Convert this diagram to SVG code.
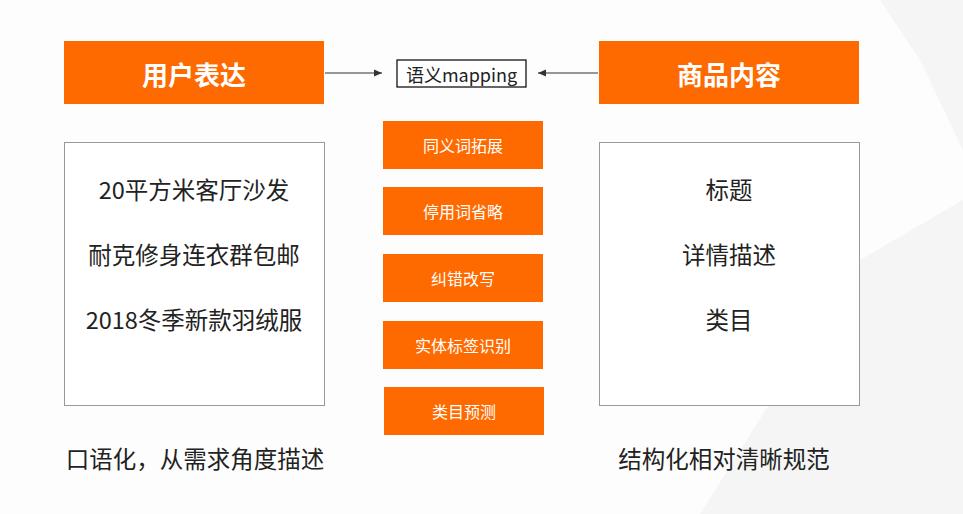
<svg xmlns="http://www.w3.org/2000/svg" width="963" height="514" viewBox="0 0 963 514">
<style>
text{font-family:"Noto Sans CJK SC","Noto Sans",sans-serif;text-anchor:middle;dominant-baseline:central}
.hd{fill:#ff6a00}.hdt{fill:#fff;font-size:26px;font-weight:bold}
.op{fill:#ff6a00}.opt{fill:#fff;font-size:16px}
.bx{fill:#fff;stroke:#999;stroke-width:1}
.bt{fill:#222;font-size:23.5px}
.ln{stroke:#333;stroke-width:1.2;fill:none}
</style>
<defs><marker id="ah" markerWidth="8" markerHeight="8" refX="7" refY="4" orient="auto"><path d="M0,1 L7,4 L0,7 Z" fill="#333"/></marker></defs>
<rect width="963" height="514" fill="#fdfdfd"/>
<g fill="#f0f0f0" opacity="0.6">
<polygon points="860,260 963,200 963,514 700,514"/>
<polygon points="880,0 963,0 963,150 920,60"/>
</g>
<g id="user"><rect class="hd" x="64" y="41" width="260" height="63"/><text class="hdt" x="194" y="73">用户表达</text></g>
<g id="goods"><rect class="hd" x="599" y="41" width="260" height="63"/><text class="hdt" x="729" y="73">商品内容</text></g>
<g id="mapping"><rect x="397" y="60" width="129" height="27" fill="#fff" stroke="#000" stroke-width="1.2"/><text x="461.5" y="73.5" font-size="18" fill="#222">语义mapping</text></g>
<g id="connectors">
<line class="ln" x1="325" y1="73" x2="382" y2="73" marker-end="url(#ah)"/>
<line class="ln" x1="598" y1="73" x2="538" y2="73" marker-end="url(#ah)"/>
</g>
<g id="op1"><rect class="op" x="383" y="121" width="160" height="48"/><text class="opt" x="463" y="145">同义词拓展</text></g>
<g id="op2"><rect class="op" x="383" y="187" width="160" height="48"/><text class="opt" x="463" y="211">停用词省略</text></g>
<g id="op3"><rect class="op" x="383" y="254" width="160" height="48"/><text class="opt" x="463" y="278">纠错改写</text></g>
<g id="op4"><rect class="op" x="383" y="321" width="160" height="48"/><text class="opt" x="463" y="345">实体标签识别</text></g>
<g id="op5"><rect class="op" x="384" y="387" width="160" height="48"/><text class="opt" x="464" y="411">类目预测</text></g>
<g id="userbox"><rect class="bx" x="64.5" y="142.5" width="260" height="263"/>
<text class="bt" x="194" y="189">20平方米客厅沙发</text>
<text class="bt" x="194" y="254">耐克修身连衣群包邮</text>
<text class="bt" x="194" y="319">2018冬季新款羽绒服</text></g>
<g id="goodsbox"><rect class="bx" x="599.5" y="142.5" width="260" height="263"/>
<text class="bt" x="729" y="189">标题</text>
<text class="bt" x="729" y="254">详情描述</text>
<text class="bt" x="729" y="319">类目</text></g>
<g id="notes">
<text class="bt" x="195" y="458">口语化，从需求角度描述</text>
<text class="bt" x="724" y="458">结构化相对清晰规范</text></g>
</svg>
